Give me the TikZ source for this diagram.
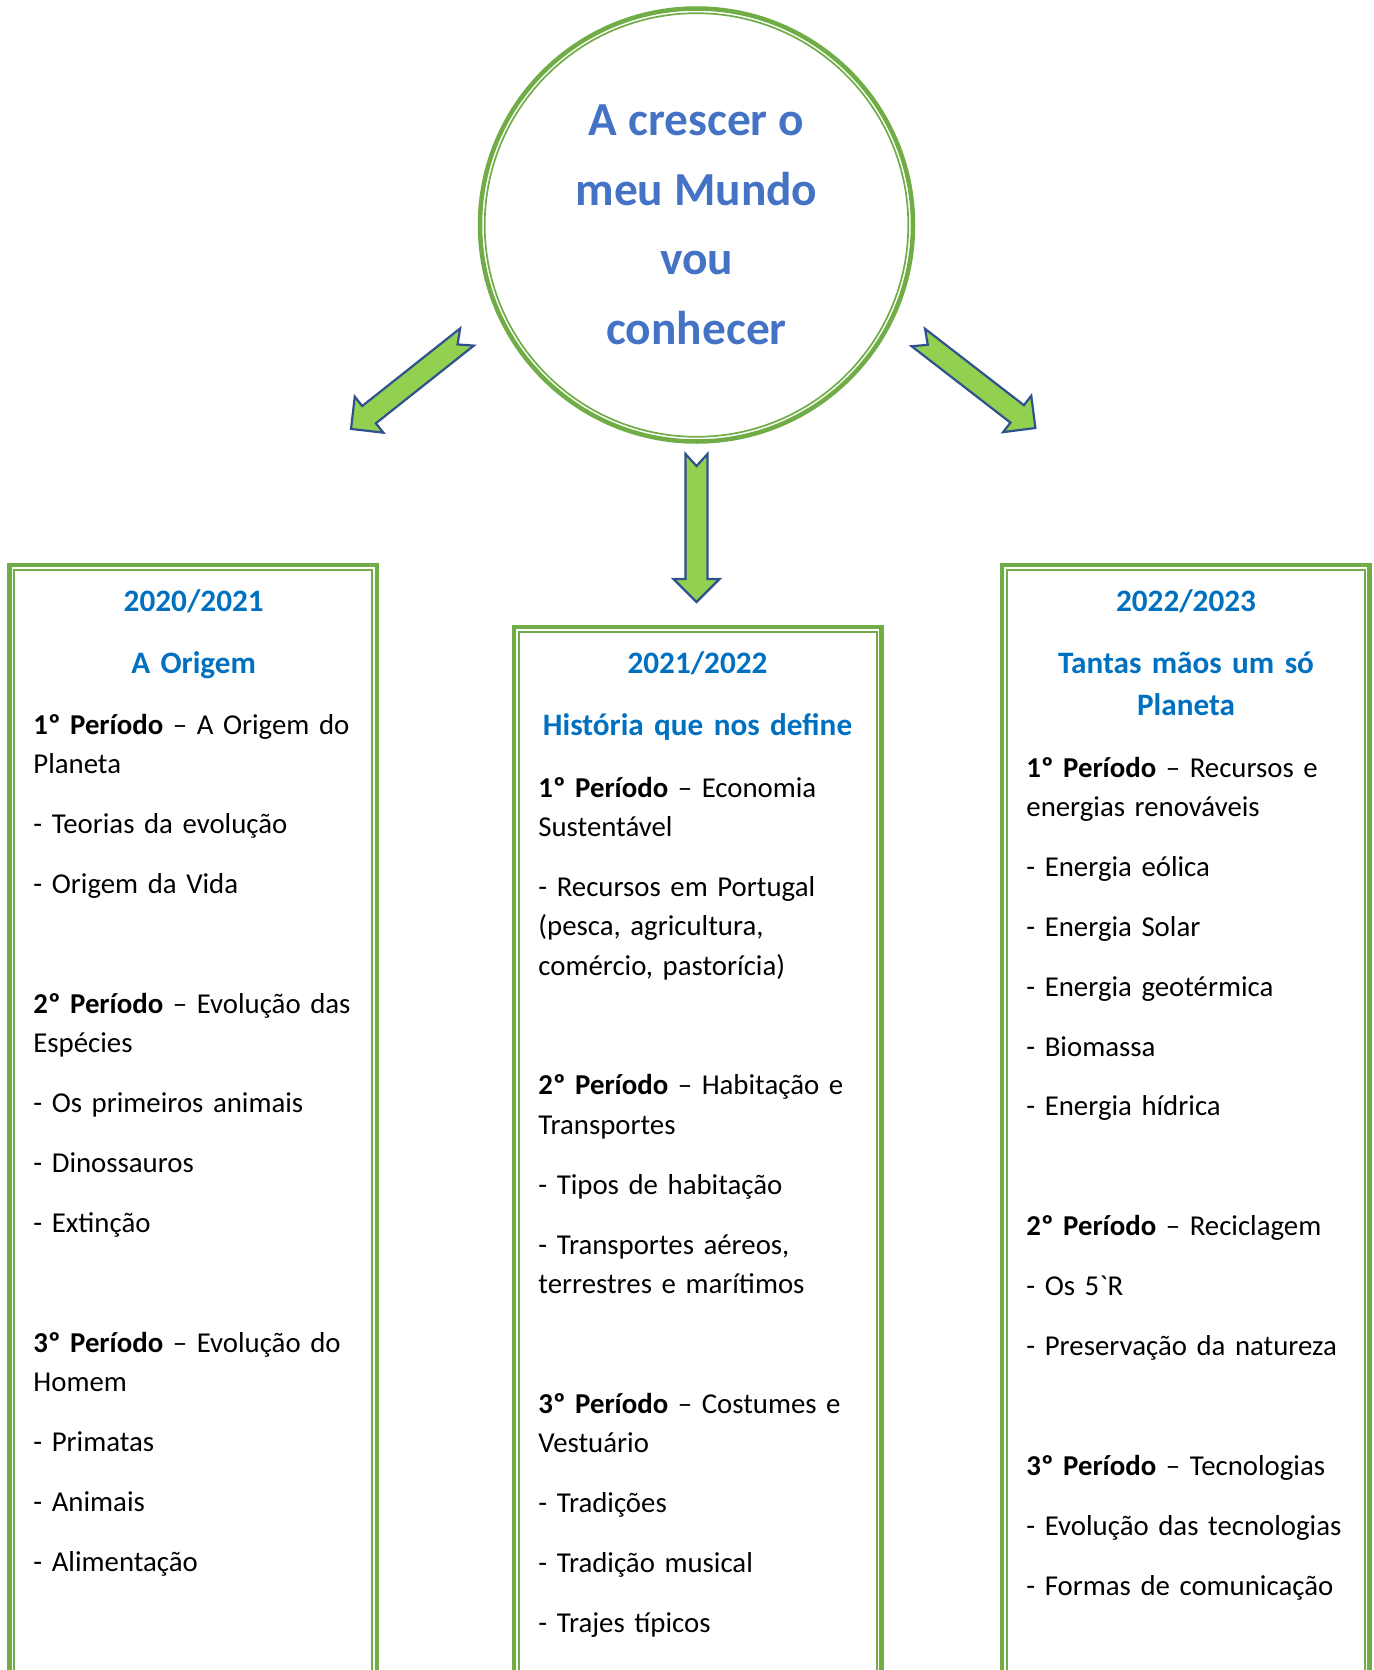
\documentclass[tikz,border=0pt]{standalone}
\usepackage{fontspec}
\setmainfont{Carlito}
\usetikzlibrary{positioning}

\definecolor{framegreen}{HTML}{70AD47}
\definecolor{arrowgreen}{HTML}{92D050}
\definecolor{arrowblue}{HTML}{2F528F}
\definecolor{titleblue}{HTML}{0070C0}
\definecolor{themeblue}{HTML}{4472C4}

\newcommand{\pgap}{\\[10.25pt]}
\newcommand{\bgap}{\\[40.2pt]}

\tikzset{
	yearbox/.style={draw=framegreen, line width=2.25pt, anchor=north west, inner sep=0pt, outer sep=0pt, minimum width=183.75pt},
	innerframe/.style={draw=framegreen, line width=0.85pt},
	yeartitle/.style={anchor=base, inner sep=0pt, text width=180pt, align=center, text=titleblue, font=\fontsize{15.6pt}{20.75pt}\selectfont\bfseries},
	periodtext/.style={anchor=base west, inner sep=0pt, text width=170pt, align=left, font=\fontsize{14.4pt}{19.7pt}\selectfont},
	blockarrow/.style={fill=arrowgreen, draw=arrowblue, line width=1.1pt, line join=miter},
	bigarrow/.pic={\draw[blockarrow] (0,-11) -- (125,-11) -- (125,-23) -- (148,0) -- (125,23) -- (125,11) -- (0,11) -- (12,0) -- cycle;}
}

\begin{document}
\begin{tikzpicture}[x=0.5pt, y=-0.5pt]
	\useasboundingbox (0,0) rectangle (1373,1670);
	\clip (0,0) rectangle (1373,1670);
	% tema central
	\node[circle, draw=framegreen, line width=2.25pt, minimum size=216.5pt, inner sep=0pt, outer sep=0pt, align=center, text=themeblue, font=\fontsize{23.7pt}{34.75pt}\selectfont\bfseries] (theme) at (696.5,225) {A crescer o\\ meu Mundo\\ vou\\ conhecer};
	\draw[innerframe] (theme.center) circle[radius=105.9pt];
	\pic[rotate=218.4] at (467,337) {bigarrow};
	\pic[rotate=-90] at (696.5,454) {bigarrow};
	\pic[rotate=-37.7] at (918.3,337.5) {bigarrow};
	% anos
	\node[yearbox, minimum height=577.5pt] (box1) at (9.5,565) {};
	\node[yearbox, minimum height=546.5pt] (box2) at (514,627.2) {};
	\node[yearbox, minimum height=577.5pt] (box3) at (1002.2,565) {};
	\foreach \b in {box1,box2,box3}
		\draw[innerframe] ([shift={(4.75,4.75)}]\b.north west) rectangle ([shift={(-4.75,-4.75)}]\b.south east);
	\node[yeartitle] (title1) at (193.7,611.7) {2020/2021\pgap A Origem};
	\node[yeartitle] (title2) at (697.5,673.3) {2021/2022\pgap História que nos define};
	\node[yeartitle] (title3) at (1186,611.7) {2022/2023\pgap Tantas mãos um só\\ Planeta};
	\node[periodtext] (body1) at (33,734.3) {\textbf{1º Período} – A Origem do\\ Planeta\pgap
		- Teorias da evolução\pgap
		- Origem da Vida\bgap
		\textbf{2º Período} – Evolução das\\ Espécies\pgap
		- Os primeiros animais\pgap
		- Dinossauros\pgap
		- Extinção\bgap
		\textbf{3º Período} – Evolução do\\ Homem\pgap
		- Primatas\pgap
		- Animais\pgap
		- Alimentação};
	\node[periodtext] (body2) at (538,797) {\textbf{1º Período} – Economia\\ Sustentável\pgap
		- Recursos em Portugal\\ (pesca, agricultura,\\ comércio, pastorícia)\bgap
		\textbf{2º Período} – Habitação e\\ Transportes\pgap
		- Tipos de habitação\pgap
		- Transportes aéreos,\\ terrestres e marítimos\bgap
		\textbf{3º Período} – Costumes e\\ Vestuário\pgap
		- Tradições\pgap
		- Tradição musical\pgap
		- Trajes típicos};
	\node[periodtext] (body3) at (1026,777) {\textbf{1º Período} – Recursos e\\ energias renováveis\pgap
		- Energia eólica\pgap
		- Energia Solar\pgap
		- Energia geotérmica\pgap
		- Biomassa\pgap
		- Energia hídrica\bgap
		\textbf{2º Período} – Reciclagem\pgap
		- Os 5\textasciigrave R\pgap
		- Preservação da natureza\bgap
		\textbf{3º Período} – Tecnologias\pgap
		- Evolução das tecnologias\pgap
		- Formas de comunicação};
\end{tikzpicture}
\end{document}
